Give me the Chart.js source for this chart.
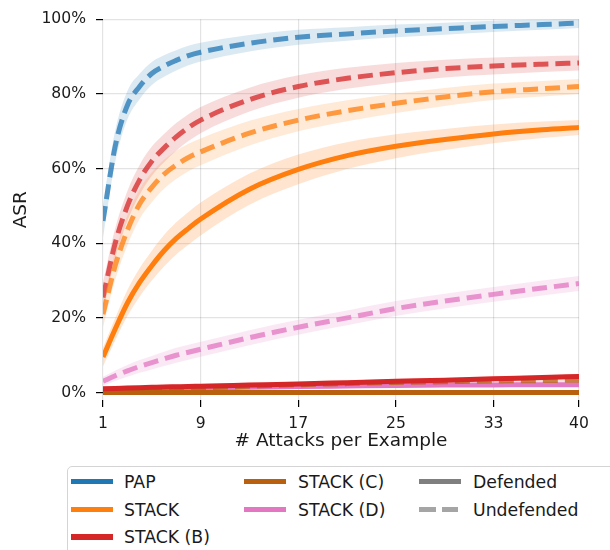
<!DOCTYPE html>
<html>
<head>
<meta charset="utf-8">
<script src="https://cdn.jsdelivr.net/npm/chart.js@4.4.1/dist/chart.umd.min.js"></script>
<style>
  html, body { margin: 0; padding: 0; background: #fff; }
  body { width: 610px; height: 550px; position: relative; overflow: hidden; font-family: "DejaVu Sans", sans-serif; }
  #c { position: absolute; left: 0; top: 0; }
  #legend { position: absolute; left: 67px; top: 466px; width: 620px; height: 120px; border: 1.2px solid #d4d4d4; border-radius: 5px; background: #fff; }
  .lg-handle { position: absolute; height: 5.5px; }
  .lg-text { position: absolute; height: 24px; line-height: 24px; font-size: 17.3px; color: #1a1a1a; white-space: nowrap; }
</style>
</head>
<body>
<canvas id="c" width="610" height="550"></canvas>
<div id="legend"></div>
<script>
// ---- data (ASR in %) ----
const attacks = [1, 2, 3, 4, 5, 6, 7, 8, 9, 13, 17, 21, 25, 29, 33, 37, 40];
const xTicks = [1, 9, 17, 25, 33, 40];
const yTicks = [0, 20, 40, 60, 80, 100];

const papUndefended    = [46, 66, 77, 82, 85.5, 87.5, 89, 90.3, 91.2, 93.6, 95.2, 96.1, 96.9, 97.5, 98.1, 98.6, 99];
const papUndefendedCI  = [4.5, 4.2, 3.8, 3.4, 3.1, 2.9, 2.7, 2.6, 2.5, 2.2, 2.0, 1.8, 1.7, 1.6, 1.5, 1.4, 1.3];

const stackDefended    = [9.5, 17, 24, 29.5, 34, 38, 41.3, 44, 46.5, 54.5, 59.8, 63.5, 66, 67.8, 69.3, 70.4, 71];
const stackDefendedCI  = [2.5, 3, 3.5, 3.8, 4, 4.2, 4.3, 4.4, 4.4, 4.2, 4.0, 3.6, 3.2, 2.8, 2.5, 2.2, 2.0];
const stackUndefended  = [21, 34, 43.5, 50.5, 55, 58.5, 61, 63, 64.5, 69.5, 73, 75.5, 77.5, 79.2, 80.6, 81.4, 82];
const stackUndefendedCI= [3.5, 3.8, 4, 4, 4, 3.9, 3.8, 3.7, 3.6, 3.3, 3.0, 2.8, 2.6, 2.4, 2.2, 2.1, 2.0];

const stackBDefended   = [1.0, 1.1, 1.2, 1.3, 1.4, 1.5, 1.55, 1.6, 1.7, 2.0, 2.3, 2.65, 3.0, 3.3, 3.7, 4.0, 4.3];
const stackBDefendedCI = [0.6, 0.6, 0.6, 0.6, 0.6, 0.6, 0.6, 0.6, 0.6, 0.6, 0.6, 0.6, 0.6, 0.6, 0.6, 0.6, 0.6];
const stackBUndefended = [25.5, 40, 50, 57, 62, 65.5, 68.5, 71, 73, 78.5, 82, 84.2, 85.7, 86.8, 87.5, 88, 88.3];
const stackBUndefendedCI=[4, 4, 4, 4, 3.9, 3.8, 3.7, 3.6, 3.5, 3.2, 3.0, 2.8, 2.6, 2.4, 2.3, 2.1, 2.0];

const stackCDefended   = [0, 0, 0, 0, 0, 0, 0, 0, 0, 0, 0, 0, 0, 0, 0, 0, 0];
const stackCUndefended = [0.3, 0.4, 0.5, 0.6, 0.7, 0.8, 0.9, 1.0, 1.2, 1.7, 2.1, 2.4, 2.7, 2.9, 3.1, 3.2, 3.3];
const stackCUndefendedCI=[0.4, 0.4, 0.4, 0.4, 0.4, 0.4, 0.4, 0.4, 0.4, 0.4, 0.4, 0.4, 0.4, 0.4, 0.4, 0.4, 0.4];

const stackDDefended   = [0.5, 0.6, 0.7, 0.8, 0.9, 1.0, 1.05, 1.1, 1.2, 1.4, 1.6, 1.75, 1.9, 2.0, 2.05, 2.1, 2.1];
const stackDDefendedCI = [0.5, 0.5, 0.5, 0.5, 0.5, 0.5, 0.5, 0.5, 0.5, 0.5, 0.5, 0.5, 0.5, 0.5, 0.5, 0.5, 0.5];
const stackDUndefended = [3, 4.5, 5.8, 7, 8, 9, 10, 10.8, 11.6, 14.7, 17.5, 20, 22.5, 24.5, 26.3, 28, 29.2];
const stackDUndefendedCI=[1.2, 1.4, 1.6, 1.7, 1.8, 1.9, 2, 2, 2, 2, 2, 2, 2, 2, 2, 2, 2];

const seriesNames = ["PAP", "STACK", "STACK (B)", "STACK (C)", "STACK (D)"];
const styleNames = ["Defended", "Undefended"];

// ---- styling ----
const colors = {
  "PAP": [31, 119, 180],
  "STACK": [255, 127, 14],
  "STACK (B)": [214, 39, 40],
  "STACK (C)": [184, 96, 14],
  "STACK (D)": [227, 119, 194]
};
const rgba = (c, a) => `rgba(${c[0]},${c[1]},${c[2]},${a})`;
const pts = arr => attacks.map((x, i) => ({ x: x, y: arr[i] }));

const datasets = [];
function addSeries(name, values, ci, dashed) {
  const c = colors[name];
  if (ci) {
    datasets.push({
      data: pts(values.map((v, i) => v + ci[i])), borderWidth: 0, pointRadius: 0,
      backgroundColor: rgba(c, dashed ? 0.16 : 0.2), fill: '+1', cubicInterpolationMode: 'monotone'
    });
    datasets.push({
      data: pts(values.map((v, i) => v - ci[i])), borderWidth: 0, pointRadius: 0,
      backgroundColor: 'rgba(0,0,0,0)', fill: false, cubicInterpolationMode: 'monotone'
    });
  }
  datasets.push({
    data: pts(values), borderColor: dashed ? rgba(c, 0.75) : rgba(c, 1),
    borderWidth: 5, borderDash: dashed ? [15, 7] : [], pointRadius: 0, fill: false,
    cubicInterpolationMode: 'monotone', borderCapStyle: 'butt'
  });
}
addSeries("PAP", papUndefended, papUndefendedCI, true);
addSeries("STACK", stackDefended, stackDefendedCI, false);
addSeries("STACK", stackUndefended, stackUndefendedCI, true);
addSeries("STACK (B)", stackBDefended, stackBDefendedCI, false);
addSeries("STACK (B)", stackBUndefended, stackBUndefendedCI, true);
addSeries("STACK (C)", stackCDefended, null, false);
addSeries("STACK (C)", stackCUndefended, stackCUndefendedCI, true);
addSeries("STACK (D)", stackDDefended, stackDDefendedCI, false);
addSeries("STACK (D)", stackDUndefended, stackDUndefendedCI, true);

const tickFont = { family: "DejaVu Sans", size: 15.6 };
const titleFont = { family: "DejaVu Sans", size: 18.5 };

new Chart(document.getElementById('c'), {
  type: 'line',
  data: { datasets },
  options: {
    responsive: false,
    animation: false,
    devicePixelRatio: 1,
    layout: { padding: { top: 18, right: 31, bottom: 98, left: 0 } },
    plugins: { legend: { display: false }, tooltip: { enabled: false } },
    scales: {
      x: {
        type: 'linear', min: 1, max: 40,
        afterBuildTicks: s => { s.ticks = xTicks.map(v => ({ value: v })); },
        afterFit: s => { s.height = 52; },
        grid: { color: 'rgba(0,0,0,0.11)', lineWidth: 1.2, tickColor: '#000', tickLength: 7, tickWidth: 1.2 },
        border: { display: false },
        ticks: { font: tickFont, color: '#1a1a1a', padding: 8, maxRotation: 0, autoSkip: false },
        title: { display: true, text: '# Attacks per Example', font: titleFont, color: '#1a1a1a', padding: { top: 4, bottom: 0 } }
      },
      y: {
        type: 'linear', min: -2, max: 100,
        afterBuildTicks: s => { s.ticks = yTicks.map(v => ({ value: v })); },
        afterFit: s => { s.width = 103; },
        grid: { color: 'rgba(0,0,0,0.11)', lineWidth: 1.2, tickColor: '#000', tickLength: 7, tickWidth: 1.2 },
        border: { display: false },
        ticks: { font: tickFont, color: '#1a1a1a', padding: 10, callback: v => v + '%' },
        title: { display: true, text: 'ASR', font: titleFont, color: '#1a1a1a', padding: { top: 10, bottom: 0 } }
      }
    }
  }
});

// ---- legend (matplotlib-style, 3 columns) ----
const legend = document.getElementById('legend');
const rowY = [481.7, 509.5, 536.8];
const colHandleX = [71, 244, 419];
const colTextX = [124, 298, 473];
const entries = [];
seriesNames.forEach((n, i) => entries.push({ label: n, color: rgba(colors[n], 1), dashed: false }));
entries.push({ label: styleNames[0], color: '#7f7f7f', dashed: false });
entries.push({ label: styleNames[1], color: 'rgba(127,127,127,0.7)', dashed: true });
const place = [[0,0],[0,1],[0,2],[1,0],[1,1],[2,0],[2,1]];
const L0 = 67, T0 = 466;
entries.forEach((e, i) => {
  const [col, row] = place[i];
  const cy = rowY[row];
  if (e.dashed) {
    [[0, 16.5], [23, 16]].forEach(([dx, w]) => {
      const h = document.createElement('div');
      h.className = 'lg-handle';
      h.style.left = (colHandleX[col] + dx - L0 - 1) + 'px';
      h.style.width = w + 'px';
      h.style.top = (cy - 2.75 - T0 - 1) + 'px';
      h.style.background = e.color;
      legend.appendChild(h);
    });
  } else {
    const h = document.createElement('div');
    h.className = 'lg-handle';
    h.style.left = (colHandleX[col] - L0 - 1) + 'px';
    h.style.width = '42px';
    h.style.top = (cy - 2.75 - T0 - 1) + 'px';
    h.style.background = e.color;
    legend.appendChild(h);
  }
  const t = document.createElement('div');
  t.className = 'lg-text';
  t.textContent = e.label;
  t.style.left = (colTextX[col] - L0 - 1) + 'px';
  t.style.top = (cy - 12 - T0 - 1) + 'px';
  legend.appendChild(t);
});
</script>
</body>
</html>
